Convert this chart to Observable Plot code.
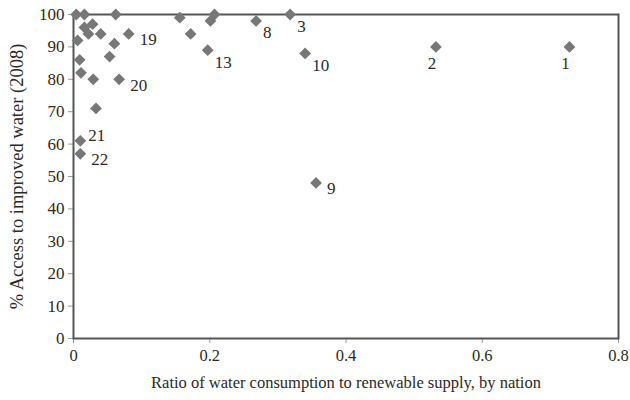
<!DOCTYPE html>
<html>
<head>
<meta charset="utf-8">
<script src="https://cdn.jsdelivr.net/npm/d3@7"></script>
<script src="https://cdn.jsdelivr.net/npm/@observablehq/plot@0.6"></script>
<style>
  html, body { margin: 0; padding: 0; background: #fff; }
</style>
</head>
<body>
<div id="chart"></div>
<script>
// Ratio of water consumption to renewable supply, by nation
const ratio  = [0.004, 0.016, 0.062, 0.028, 0.016, 0.022, 0.040, 0.006, 0.081, 0.060,
                0.053, 0.009, 0.011, 0.029, 0.067, 0.033, 0.010, 0.010, 0.156, 0.172,
                0.207, 0.201, 0.197, 0.268, 0.318, 0.340, 0.532, 0.728, 0.356];
// % access to improved water (2008)
const access = [100, 100, 100, 97, 96, 94, 94, 92, 94, 91,
                87, 86, 82, 80, 80, 71, 61, 57, 99, 94,
                100, 98, 89, 98, 100, 88, 90, 90, 48];
// point labels ("" = unlabeled)
const labels = ["", "", "", "", "", "", "", "", "19", "",
                "", "", "", "", "20", "", "21", "22", "", "",
                "", "", "13", "8", "3", "10", "2", "1", "9"];

const xTicks = [0, 0.2, 0.4, 0.6, 0.8];
const yTicks = [0, 10, 20, 30, 40, 50, 60, 70, 80, 90, 100];
const xTitle = "Ratio of water consumption to renewable supply, by nation";
const yTitle = "% Access to improved water (2008)";

const data = ratio.map((r, i) => ({ratio: r, access: access[i], label: labels[i]}));

const rightLow  = ["19", "20", "9", "22"];
const rightHigh = ["21"];
const belowRight = ["3", "8", "10", "13"];
const below = ["1", "2"];

const pick = set => data.filter(d => set.includes(d.label));

const chart = Plot.plot({
  width: 630,
  height: 400,
  marginLeft: 73,
  marginRight: 12,
  marginTop: 14,
  marginBottom: 62,
  style: {fontFamily: "'Liberation Serif', 'DejaVu Serif', serif", fontSize: "16px", color: "#2a2a2a", background: "#fff"},
  x: {domain: [0, 0.8]},
  y: {domain: [0, 100]},
  marks: [
    Plot.axisX({ticks: xTicks, tickFormat: d => String(d), tickSize: 5, tickPadding: 6,
      stroke: "#999", fontSize: 16.5, label: xTitle, labelAnchor: "center", labelArrow: "none", labelOffset: 49}),
    Plot.axisY({ticks: yTicks, tickFormat: d => String(d), tickSize: 5, tickPadding: 4,
      stroke: "#999", fontSize: 17, label: null}),
    Plot.axisY({ticks: [], label: yTitle, labelAnchor: "center", labelArrow: "none", labelOffset: 64, fontSize: 18.5}),
    Plot.frame({stroke: "#555", strokeWidth: 2}),
    Plot.dot(data, {x: "ratio", y: "access", symbol: "diamond2", r: 5.3, fill: "#777", stroke: "none"}),
    Plot.text(pick(rightLow),  {x: "ratio", y: "access", text: "label", dx: 11, dy: 6, textAnchor: "start", fontSize: 17, fill: "#2a2a2a"}),
    Plot.text(pick(rightHigh), {x: "ratio", y: "access", text: "label", dx: 8, dy: -5, textAnchor: "start", fontSize: 17, fill: "#2a2a2a"}),
    Plot.text(pick(belowRight),{x: "ratio", y: "access", text: "label", dx: 7, dy: 12, textAnchor: "start", fontSize: 17, fill: "#2a2a2a"}),
    Plot.text(pick(below),     {x: "ratio", y: "access", text: "label", dx: -4, dy: 17, textAnchor: "middle", fontSize: 17, fill: "#2a2a2a"})
  ]
});
document.getElementById("chart").appendChild(chart);
</script>
</body>
</html>
